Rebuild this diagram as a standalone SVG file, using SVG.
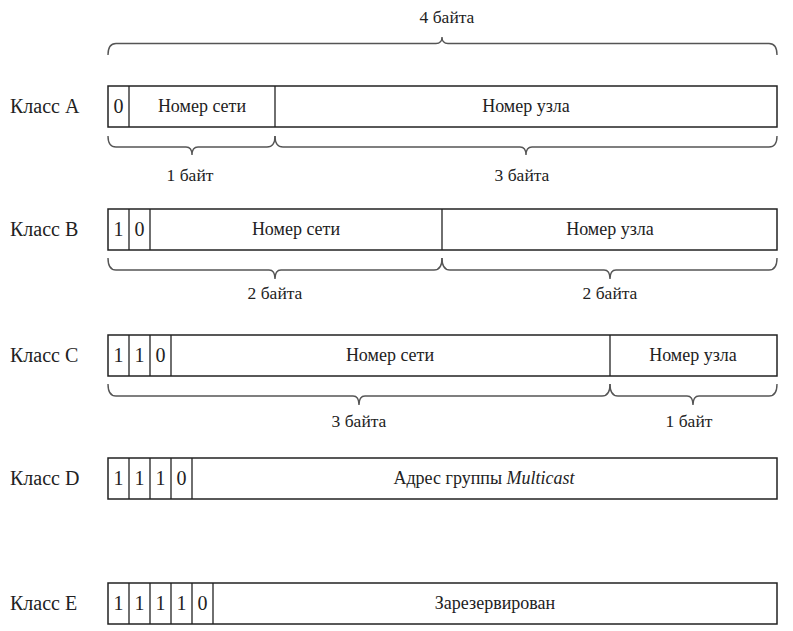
<svg xmlns="http://www.w3.org/2000/svg" width="793" height="631" viewBox="0 0 793 631" font-family="Liberation Serif, Tinos, Times New Roman, DejaVu Serif, serif">
<style>
text{font-family:"Liberation Serif",Tinos,"Times New Roman","DejaVu Serif",serif;fill:#222}
.cls{font-size:20px}
.fld{font-size:18px;text-anchor:middle}
.bit{font-size:20px;text-anchor:middle}
.byt{font-size:17.5px;text-anchor:middle}
.box{fill:#fff;stroke:#222;stroke-width:1.5}
.div{stroke:#222;stroke-width:1.3}
.brace{fill:none;stroke:#555;stroke-width:1.4}
</style>
<rect width="793" height="631" fill="#fff"/>
<g id="connectors">
<path class="brace" d="M108,55 Q108,43.5 116,43.5 L436,43.5 Q442,43.5 442,37 Q442,43.5 448,43.5 L769,43.5 Q777,43.5 777,55"/>
<path class="brace" d="M108,136 Q108,147 116,147 L186,147 Q192,147 192,155 Q192,147 198,147 L267,147 Q275,147 275,136"/>
<path class="brace" d="M275,136 Q275,147 283,147 L520,147 Q526,147 526,155 Q526,147 532,147 L769,147 Q777,147 777,136"/>
<path class="brace" d="M108,258 Q108,270 116,270 L269,270 Q275,270 275,279 Q275,270 281,270 L434,270 Q442,270 442,258"/>
<path class="brace" d="M442,258 Q442,270 450,270 L604,270 Q610,270 610,279 Q610,270 616,270 L769,270 Q777,270 777,258"/>
<path class="brace" d="M108,384 Q108,396 116,396 L353,396 Q359,396 359,405 Q359,396 365,396 L602,396 Q610,396 610,384"/>
<path class="brace" d="M610,384 Q610,396 618,396 L687,396 Q693,396 693,405 Q693,396 699,396 L769,396 Q777,396 777,384"/>
</g>
<g id="labels">
<text class="byt" x="447" y="23">4 байта</text>
<text class="byt" x="190" y="181">1 байт</text>
<text class="byt" x="522" y="181">3 байта</text>
<text class="byt" x="275" y="299">2 байта</text>
<text class="byt" x="610" y="299">2 байта</text>
<text class="byt" x="359" y="427">3 байта</text>
<text class="byt" x="689" y="427">1 байт</text>
</g>
<g id="classA">
<text class="cls" x="10" y="112.5">Класс A</text>
<rect class="box" x="108" y="86" width="669" height="41"/>
<line class="div" x1="129" y1="86" x2="129" y2="127"/>
<line class="div" x1="275" y1="86" x2="275" y2="127"/>
<text class="bit" x="118.5" y="112.5">0</text>
<text class="fld" x="202" y="112">Номер сети</text>
<text class="fld" x="526" y="112">Номер узла</text>
</g>
<g id="classB">
<text class="cls" x="10" y="235.5">Класс B</text>
<rect class="box" x="108" y="209" width="669" height="41"/>
<line class="div" x1="129" y1="209" x2="129" y2="250"/>
<line class="div" x1="150" y1="209" x2="150" y2="250"/>
<line class="div" x1="442" y1="209" x2="442" y2="250"/>
<text class="bit" x="118.5" y="235.5">1</text>
<text class="bit" x="139.5" y="235.5">0</text>
<text class="fld" x="296" y="235">Номер сети</text>
<text class="fld" x="610" y="235">Номер узла</text>
</g>
<g id="classC">
<text class="cls" x="10" y="361.5">Класс C</text>
<rect class="box" x="108" y="335" width="669" height="41"/>
<line class="div" x1="129" y1="335" x2="129" y2="376"/>
<line class="div" x1="150" y1="335" x2="150" y2="376"/>
<line class="div" x1="171" y1="335" x2="171" y2="376"/>
<line class="div" x1="610" y1="335" x2="610" y2="376"/>
<text class="bit" x="118.5" y="361.5">1</text>
<text class="bit" x="139.5" y="361.5">1</text>
<text class="bit" x="160.5" y="361.5">0</text>
<text class="fld" x="390" y="361">Номер сети</text>
<text class="fld" x="693" y="361">Номер узла</text>
</g>
<g id="classD">
<text class="cls" x="10" y="484.5">Класс D</text>
<rect class="box" x="108" y="458" width="669" height="41"/>
<line class="div" x1="129" y1="458" x2="129" y2="499"/>
<line class="div" x1="150" y1="458" x2="150" y2="499"/>
<line class="div" x1="171" y1="458" x2="171" y2="499"/>
<line class="div" x1="192" y1="458" x2="192" y2="499"/>
<text class="bit" x="118.5" y="484.5">1</text>
<text class="bit" x="139.5" y="484.5">1</text>
<text class="bit" x="160.5" y="484.5">1</text>
<text class="bit" x="181.5" y="484.5">0</text>
<text class="fld" x="484" y="484">Адрес группы <tspan font-style="italic">Multicast</tspan></text>
</g>
<g id="classE">
<text class="cls" x="10" y="609.5">Класс E</text>
<rect class="box" x="108" y="583" width="669" height="41"/>
<line class="div" x1="129" y1="583" x2="129" y2="624"/>
<line class="div" x1="150" y1="583" x2="150" y2="624"/>
<line class="div" x1="171" y1="583" x2="171" y2="624"/>
<line class="div" x1="192" y1="583" x2="192" y2="624"/>
<line class="div" x1="213" y1="583" x2="213" y2="624"/>
<text class="bit" x="118.5" y="609.5">1</text>
<text class="bit" x="139.5" y="609.5">1</text>
<text class="bit" x="160.5" y="609.5">1</text>
<text class="bit" x="181.5" y="609.5">1</text>
<text class="bit" x="202.5" y="609.5">0</text>
<text class="fld" x="495" y="609">Зарезервирован</text>
</g>
</svg>
